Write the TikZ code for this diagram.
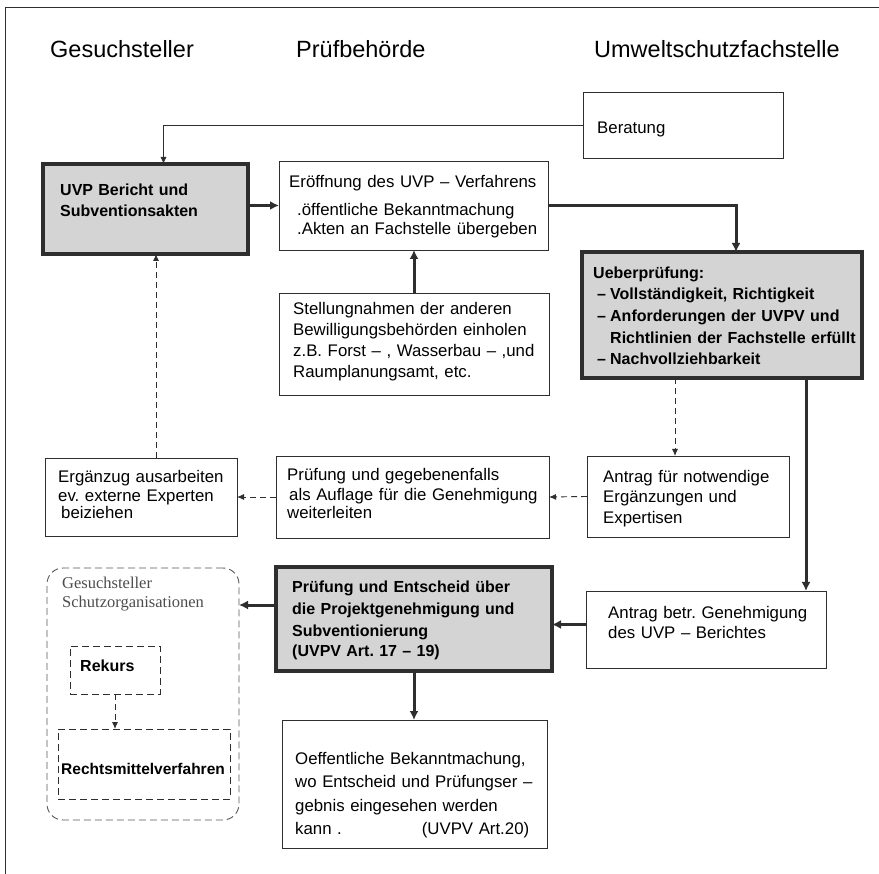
\documentclass[tikz,border=0pt]{standalone}
\usepackage{fontspec}
\setmainfont{Liberation Sans}
\newfontfamily\serifl{Liberation Serif}
\usetikzlibrary{arrows.meta}
\definecolor{ink}{HTML}{2E2E2E}
\definecolor{shade}{HTML}{D4D4D4}
\frenchspacing
\begin{document}
\frenchspacing
\begin{tikzpicture}[x=1pt,y=-1pt,
  box/.style={draw=ink, line width=0.9pt, anchor=north west, inner sep=0pt, outer sep=0pt},
  heavybox/.style={draw=ink, line width=3.5pt, fill=shade, anchor=north west, inner sep=0pt, outer sep=0pt},
  dbox/.style={box, dash pattern=on 7pt off 4pt},
  txt/.style={anchor=base west, inner sep=0pt, align=left, font=\fontsize{16.8}{21}\selectfont},
  btxt/.style={anchor=base west, inner sep=0pt, align=left, font=\fontsize{16}{21}\selectfont\bfseries},
  head/.style={anchor=base west, inner sep=0pt, font=\fontsize{23.5}{27}\selectfont},
  thinarrow/.style={draw=ink, line width=0.9pt, -{Latex[length=7pt,width=6pt]}},
  dasharrow/.style={thinarrow, dash pattern=on 6pt off 4pt},
  heavyarrow/.style={draw=ink, line width=3pt, -{Latex[length=9pt,width=9pt]}},
]
\useasboundingbox (0,0) rectangle (879,874);
% frame
\coordinate (fr1) at (879,8);
\coordinate (fr2) at (5,8);
\coordinate (fr3) at (5,874);
\draw[ink, line width=1pt] (fr1) -- (fr2) -- (fr3);

% headers
\node[head] (h1) at (50,58) {Gesuchsteller};
\node[head] (h2) at (296,58) {Prüfbehörde};
\node[head] (h3) at (594,58) {Umweltschutzfachstelle};

% boxes
\node[box, minimum width=200pt, minimum height=66pt] (ber) at (583,92) {};
\node[txt] (berT) at (597,134) {Beratung};

\node[heavybox, minimum width=205pt, minimum height=90pt] (uvp) at (43,164) {};
\node[btxt, text width=180pt] (uvpT) at (60,196) {UVP Bericht und\\Subventionsakten};

\node[box, minimum width=269pt, minimum height=89pt] (eroe) at (279,161) {};
\node[txt, text width=262pt] (eroeT) at (289,188) {Eröffnung des UVP – Verfahrens\\[7pt]\hspace*{8pt}.öffentliche Bekanntmachung\\[-2pt]\hspace*{8pt}.Akten an Fachstelle übergeben};

\node[heavybox, minimum width=280pt, minimum height=126pt] (ueb) at (582,252) {};
\node[btxt, text width=272pt] (uebT) at (593,279) {Ueberprüfung:\\
\hspace*{4pt}\makebox[13pt][l]{–}Vollständigkeit, Richtigkeit\\[1pt]
\hspace*{4pt}\makebox[13pt][l]{–}Anforderungen der UVPV und\\[1pt]
\hspace*{17pt}Richtlinien der Fachstelle erfüllt\\
\hspace*{4pt}\makebox[13pt][l]{–}Nachvollziehbarkeit};

\node[box, minimum width=270pt, minimum height=102pt] (stel) at (279,293) {};
\node[txt, text width=262pt] (stelT) at (293,315) {Stellungnahmen der anderen\\Bewilligungsbehörden einholen\\z.B. Forst – , Wasserbau – ,und\\Raumplanungsamt, etc.};

\node[box, minimum width=202pt, minimum height=81pt] (anf) at (587,456) {};
\node[txt, text width=190pt] (anfT) at (603,483) {Antrag für notwendige\\[-1pt]Ergänzungen und\\Expertisen};

\node[box, minimum width=273pt, minimum height=82pt] (pgg) at (276,456) {};
\node[txt, text width=265pt] (pggT) at (287,481) {Prüfung und gegebenenfalls\\[-1pt]\hspace*{2pt}als Auflage für die Genehmigung\\[-3pt]weiterleiten};

\node[box, minimum width=192pt, minimum height=78pt] (erg) at (45,458) {};
\node[txt, text width=185pt] (ergT) at (58,483) {Ergänzug ausarbeiten\\[-2pt]ev. externe Experten\\[-4pt]\hspace*{3pt}beiziehen};

\node[box, draw=black!65, dash pattern=on 7pt off 4pt, rounded corners=16pt, minimum width=192pt, minimum height=252pt] (gs) at (47,568) {};
\node[anchor=base west, inner sep=0pt, align=left, text width=185pt, font=\serifl\fontsize{16.5}{20}\selectfont, text=black!70] (gsT) at (62,588) {Gesuchsteller\\Schutzorganisationen};

\node[dbox, minimum width=90pt, minimum height=48pt] (rek) at (70,646) {};
\node[btxt] (rekT) at (80,671) {Rekurs};

\node[dbox, minimum width=172pt, minimum height=70pt] (rmv) at (58,729) {};
\node[btxt, font=\fontsize{15.5}{20}\selectfont\bfseries] (rmvT) at (61,774) {Rechtsmittelverfahren};

\node[heavybox, minimum width=276pt, minimum height=104pt] (pe) at (276,567) {};
\node[btxt, text width=265pt] (peT) at (292,592) {Prüfung und Entscheid über\\[1pt]die Projektgenehmigung und\\[1pt]Subventionierung\\(UVPV Art. 17 – 19)};

\node[box, minimum width=240pt, minimum height=77pt] (abe) at (586,591) {};
\node[txt, text width=225pt] (abeT) at (608,619) {Antrag betr. Genehmigung\\[-1pt]des UVP – Berichtes};

\node[box, minimum width=265pt, minimum height=128pt] (oef) at (282,720) {};
\node[txt, text width=250pt, font=\fontsize{16.8}{23.5}\selectfont] (oefT) at (295,764) {Oeffentliche Bekanntmachung,\\wo Entscheid und Prüfungser –\\gebnis eingesehen werden\\\makebox[234pt][l]{kann .\hfill(UVPV Art.20)}};

% connectors
\draw[thinarrow] (ber.west) -| ([xshift=18pt]uvp.north);
\draw[heavyarrow] (uvp.east |- eroe.east) -- (eroe.west);
\draw[heavyarrow] (eroe.east) -| ([xshift=14pt]ueb.north);
\draw[heavyarrow] (stel.north) -- (stel.north |- eroe.south);
\draw[dasharrow] ([xshift=-13pt]anf.north |- ueb.south) -- ([xshift=-13pt]anf.north);
\draw[heavyarrow] ([xshift=100pt]abe.north |- ueb.south) -- ([xshift=100pt]abe.north);
\draw[dasharrow] (anf.west) -- (pgg.east);
\draw[dasharrow] (pgg.west) -- (erg.east);
\draw[dasharrow] ([xshift=15pt]erg.north) -- ([xshift=15pt]erg.north |- uvp.south);
\draw[heavyarrow, line width=2.5pt] ([yshift=5pt]abe.west) -- ([yshift=5pt]abe.west -| pe.east);
\draw[heavyarrow] ([yshift=14pt]pe.west) -- ([yshift=14pt]pe.west -| gs.east);
\draw[heavyarrow] (pe.south) -- (pe.south |- oef.north);
\draw[dasharrow] (rek.south) -- (rek.south |- rmv.north);
\end{tikzpicture}
\end{document}
